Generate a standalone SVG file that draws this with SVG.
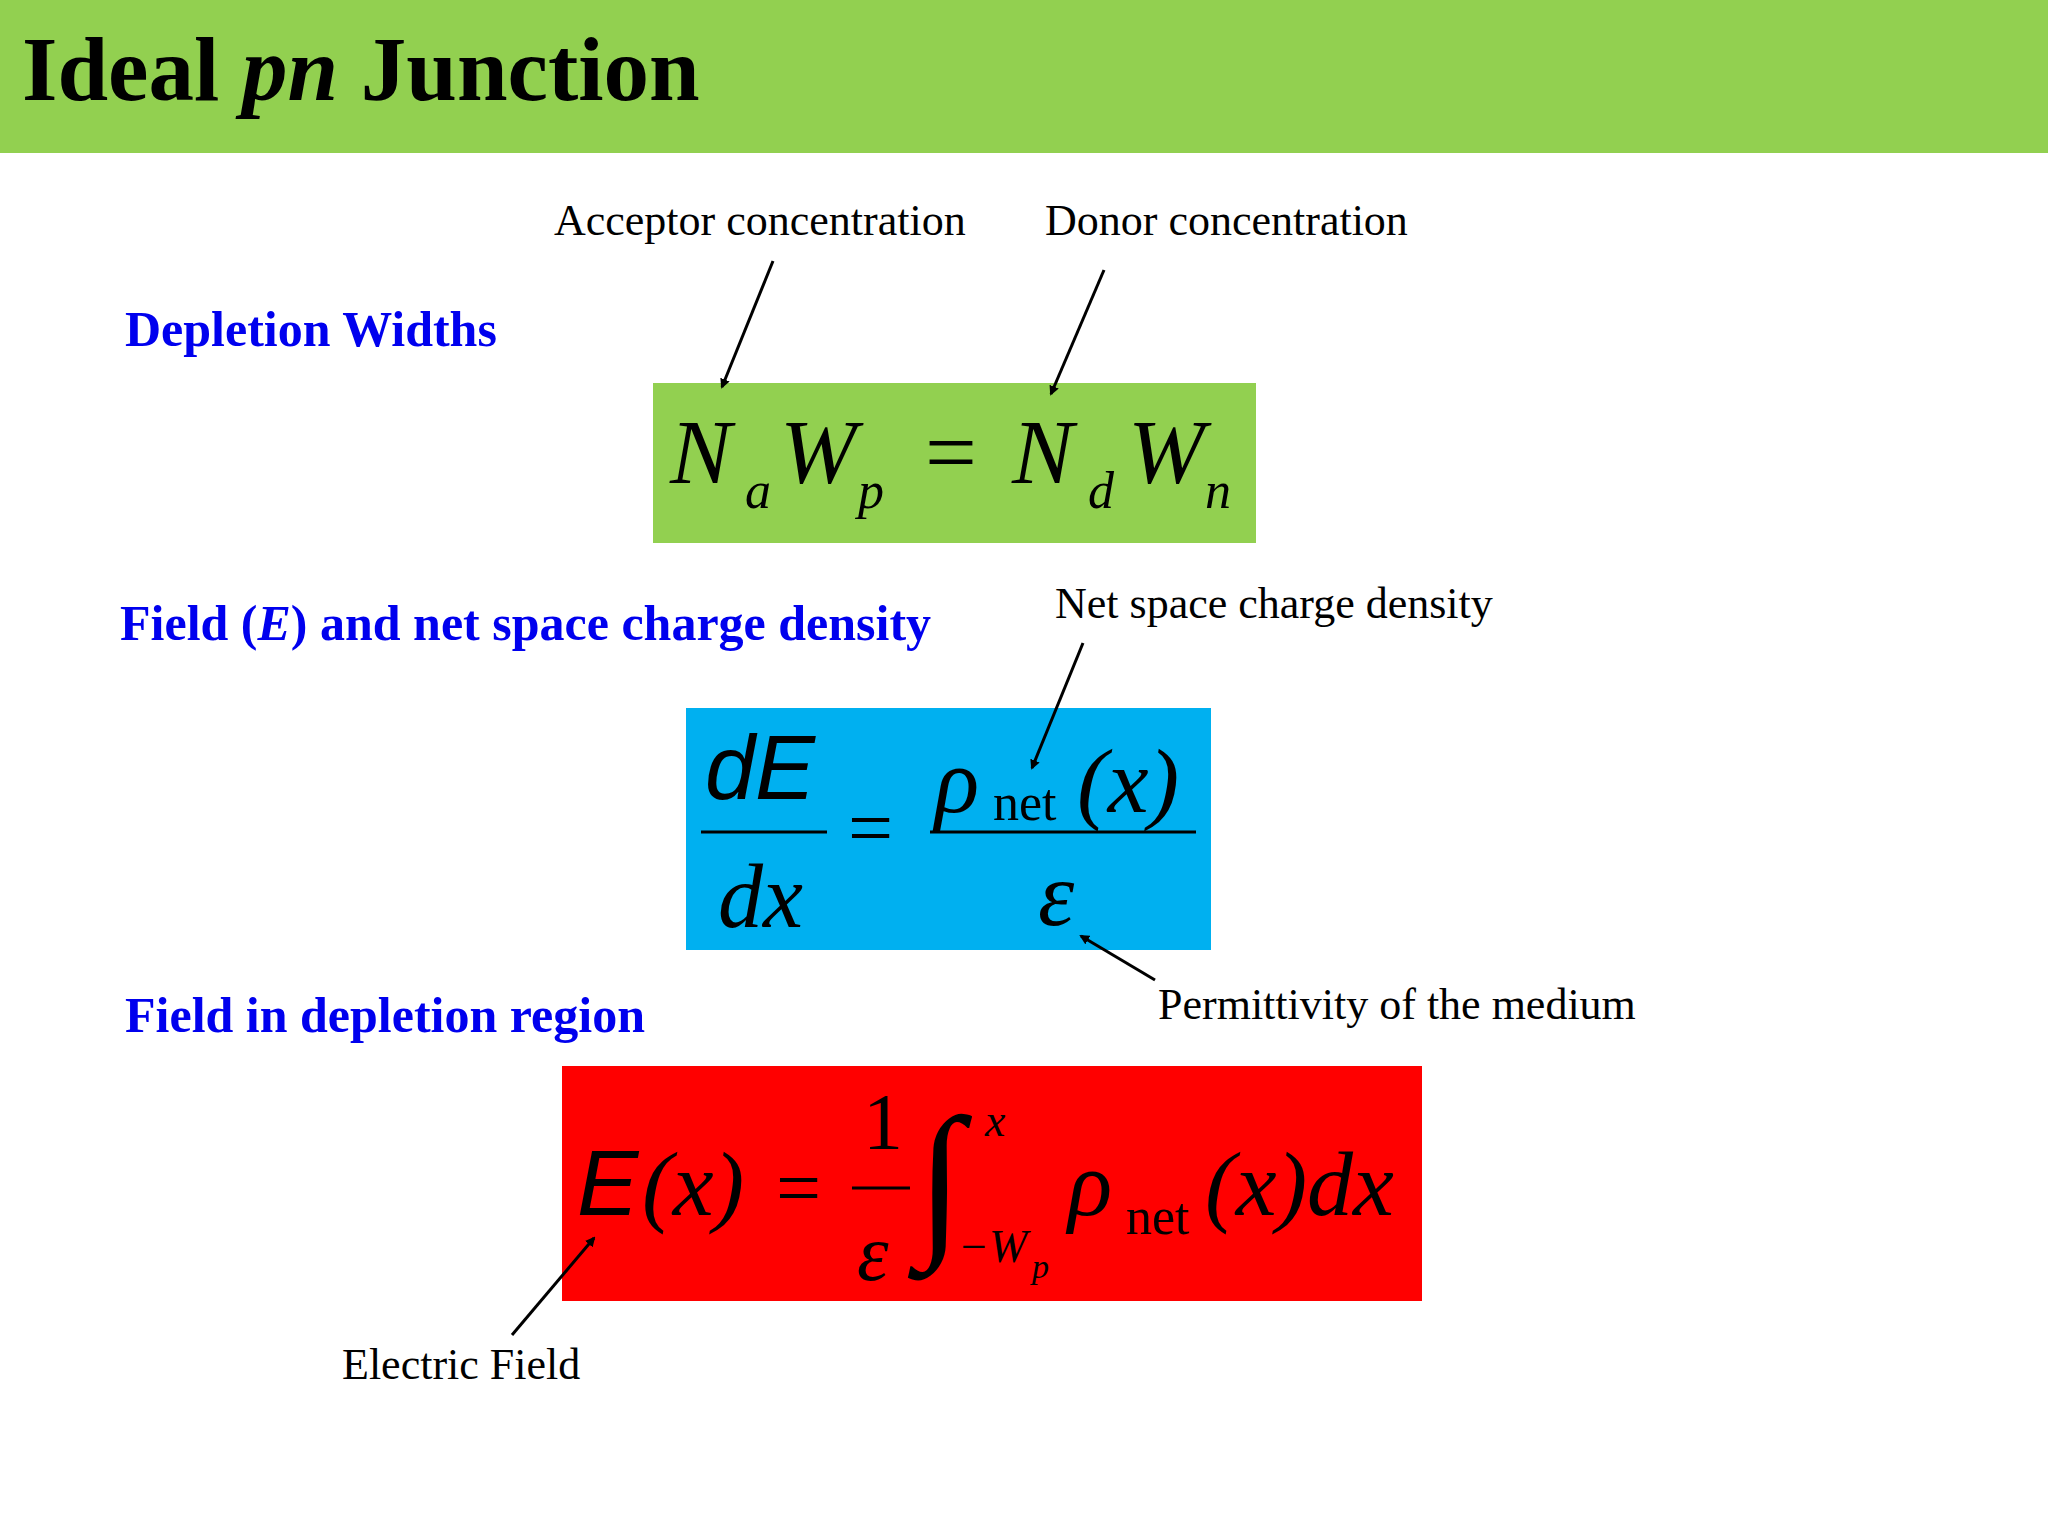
<svg xmlns="http://www.w3.org/2000/svg" width="2048" height="1536" viewBox="0 0 2048 1536">
<style>
.lbl{font-family:"Liberation Serif",serif;font-size:44px;fill:#000}
.hd{font-family:"Liberation Serif",serif;font-size:50px;font-weight:bold;fill:#0000ee}
.m{font-family:"Liberation Serif",serif;font-style:italic;fill:#000}
.r{font-family:"Liberation Serif",serif;fill:#000}
.s{font-family:"Liberation Sans",sans-serif;font-style:italic;fill:#000}
.c{stroke:#000;stroke-width:3;fill:none}
</style>
<defs><marker id="ah" markerWidth="10" markerHeight="10" refX="8" refY="5" orient="auto" markerUnits="userSpaceOnUse" viewBox="0 0 10 10"><path d="M0,0 L10,5 L0,10 z" fill="#000"/></marker></defs>
<rect x="0" y="0" width="2048" height="153" fill="#92d050"/>
<text x="22" y="100" style="font-family:'Liberation Serif',serif;font-size:91px;font-weight:bold">Ideal <tspan font-style="italic">pn</tspan> Junction</text>
<text class="hd" x="125" y="346">Depletion Widths</text>
<text class="hd" x="120" y="640">Field (<tspan font-style="italic">E</tspan>) and net space charge density</text>
<text class="hd" x="125" y="1032">Field in depletion region</text>
<g id="eq1">
<rect x="653" y="383" width="603" height="160" fill="#92d050"/>
<text class="m" font-size="92" x="670" y="483">N</text><text class="m" font-size="52" x="745" y="508">a</text>
<text class="m" font-size="92" x="780" y="483">W</text><text class="m" font-size="52" x="858" y="508">p</text>
<text class="r" font-size="92" x="925" y="483">=</text>
<text class="m" font-size="92" x="1012" y="483">N</text><text class="m" font-size="52" x="1088" y="508">d</text>
<text class="m" font-size="92" x="1128" y="483">W</text><text class="m" font-size="52" x="1205" y="508">n</text>
</g>
<g id="eq2">
<rect x="686" y="708" width="525" height="242" fill="#00b0f0"/>
<text class="s" font-size="90" x="705" y="799">dE</text>
<line x1="701" y1="832" x2="827" y2="832" stroke="#000" stroke-width="3"/>
<text class="m" font-size="90" x="718" y="927">dx</text>
<text class="r" font-size="80" x="848" y="855">=</text>
<text class="m" font-size="92" x="935" y="812">ρ</text><text class="r" font-size="52" x="993" y="820">net</text>
<text class="m" font-size="92" x="1077" y="812">(x)</text>
<line x1="930" y1="832" x2="1196" y2="832" stroke="#000" stroke-width="3"/>
<text class="m" font-size="92" x="1038" y="925">ε</text>
</g>
<g id="eq3">
<rect x="562" y="1066" width="860" height="235" fill="#ff0000"/>
<text class="s" font-size="92" x="577" y="1215">E</text>
<text class="m" font-size="92" x="642" y="1215">(x)</text>
<text class="r" font-size="80" x="776" y="1215">=</text>
<text class="r" font-size="80" x="863" y="1149">1</text>
<line x1="852" y1="1188" x2="910" y2="1188" stroke="#000" stroke-width="3"/>
<text class="m" font-size="80" x="857" y="1280">ε</text>
<text class="r" font-size="170" x="917" y="1235">∫</text>
<text class="m" font-size="46" x="985" y="1136">x</text>
<text class="m" font-size="46" x="958" y="1262">−W</text><text class="m" font-size="34" x="1032" y="1278">p</text>
<text class="m" font-size="92" x="1068" y="1215">ρ</text><text class="r" font-size="52" x="1126" y="1234">net</text>
<text class="m" font-size="92" x="1205" y="1215">(x)dx</text>
</g>
<g id="labels">
<text class="lbl" x="554" y="235">Acceptor concentration</text>
<text class="lbl" x="1045" y="235">Donor concentration</text>
<text class="lbl" x="1055" y="618">Net space charge density</text>
<text class="lbl" x="1158" y="1019">Permittivity of the medium</text>
<text class="lbl" x="342" y="1379">Electric Field</text>
</g>
<g id="connectors">
<line class="c" x1="773" y1="261" x2="722" y2="387" marker-end="url(#ah)"/>
<line class="c" x1="1104" y1="270" x2="1051" y2="394" marker-end="url(#ah)"/>
<line class="c" x1="1083" y1="643" x2="1032" y2="768" marker-end="url(#ah)"/>
<line class="c" x1="1155" y1="980" x2="1081" y2="936" marker-end="url(#ah)"/>
<line class="c" x1="512" y1="1335" x2="594" y2="1238" marker-end="url(#ah)"/>
</g>
</svg>
